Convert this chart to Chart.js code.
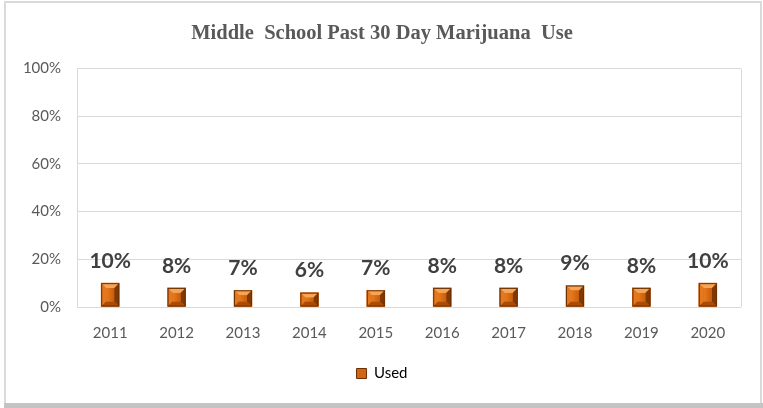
<!DOCTYPE html>
<html>
<head>
<meta charset="utf-8">
<script src="https://cdn.jsdelivr.net/npm/chart.js@4/dist/chart.umd.min.js"></script>
<style>
  html, body { margin: 0; padding: 0; background: #fff; }
  #wrap { width: 763px; height: 408px; }
</style>
</head>
<body>
<div id="wrap"><canvas id="chart" width="763" height="408"></canvas></div>
<script>
const years = ["2011", "2012", "2013", "2014", "2015", "2016", "2017", "2018", "2019", "2020"];
const used = [0.10, 0.08, 0.07, 0.06, 0.07, 0.08, 0.08, 0.09, 0.08, 0.10];
const yTicks = [0, 0.2, 0.4, 0.6, 0.8, 1.0];

const pct = v => Math.round(v * 100) + "%";

// white page with a light frame and a soft shadow along the bottom
const frame = {
  id: "frame",
  beforeDraw(chart) {
    const c = chart.ctx;
    c.save();
    c.fillStyle = "#fff";
    c.fillRect(0, 0, chart.width, chart.height);
    c.fillStyle = "#c4c4c4";
    c.fillRect(4, 403, 759, 5);
    c.fillStyle = "#dadada";
    c.fillRect(4, 1, 2, 402);
    c.fillRect(4, 1, 757, 2);
    c.fillRect(760, 1, 2, 402);
    c.restore();
  }
};

// right edge of the plot area
const plotEdge = {
  id: "plotEdge",
  beforeDatasetsDraw(chart) {
    const a = chart.chartArea, c = chart.ctx;
    c.save();
    c.strokeStyle = "#d9d9d9";
    c.lineWidth = 1;
    c.beginPath();
    c.moveTo(Math.round(a.right) + 0.5, a.top);
    c.lineTo(Math.round(a.right) + 0.5, a.bottom);
    c.stroke();
    c.restore();
  }
};

// pyramid bevel on each bar, then the value label above it
const bevel = {
  id: "bevel",
  afterDatasetsDraw(chart) {
    const c = chart.ctx;
    const meta = chart.getDatasetMeta(0);
    meta.data.forEach((bar, i) => {
      const w = bar.width;
      const l = bar.x - w / 2, r = bar.x + w / 2;
      const t = bar.y, b = bar.base;
      const h = b - t;
      const k = Math.min(5, h / 2, w / 2);
      const il = l + k, ir = r - k, it = t + k, ib = b - k;
      const quad = (pts, col) => {
        c.beginPath();
        c.moveTo(pts[0][0], pts[0][1]);
        for (let j = 1; j < pts.length; j++) c.lineTo(pts[j][0], pts[j][1]);
        c.closePath();
        c.fillStyle = col;
        c.fill();
      };
      c.save();
      quad([[l, t], [r, t], [ir, it], [il, it]], "#f6a455");
      quad([[l, t], [il, it], [il, ib], [l, b]], "#e4781f");
      quad([[r, t], [r, b], [ir, ib], [ir, it]], "#803805");
      quad([[l, b], [il, ib], [ir, ib], [r, b]], "#a84c07");
      if (ib > it) {
        const g = c.createLinearGradient(il, 0, ir, 0);
        g.addColorStop(0, "#e97a1c");
        g.addColorStop(1, "#c85e0b");
        c.fillStyle = g;
        c.fillRect(il, it, ir - il, ib - it);
      }
      c.strokeStyle = "#6b3004";
      c.lineWidth = 1;
      c.strokeRect(l + 0.5, t + 0.5, w - 1, h - 1);

      c.fillStyle = "#404040";
      c.font = "bold 21px Lato, 'Open Sans', sans-serif";
      c.textAlign = "center";
      c.textBaseline = "middle";
      c.fillText(pct(used[i]), bar.x, t - 22);
      c.restore();
    });
  }
};

new Chart(document.getElementById("chart"), {
  type: "bar",
  data: {
    labels: years,
    datasets: [{
      label: "Used",
      data: used,
      backgroundColor: "#d2650f",
      borderWidth: 0,
      barThickness: 18
    }]
  },
  options: {
    responsive: false,
    animation: false,
    layout: { padding: { left: 23, right: 22, top: 0, bottom: 17 } },
    plugins: {
      title: {
        display: true,
        text: "Middle  School Past 30 Day Marijuana  Use",
        color: "#595959",
        font: { family: "'Liberation Serif', 'Times New Roman', serif", size: 20.5, weight: "bold" },
        padding: { top: 21, bottom: 23 }
      },
      legend: {
        position: "bottom",
        labels: {
          color: "#595959",
          font: { family: "Lato, 'Open Sans', sans-serif", size: 15 },
          boxWidth: 10,
          boxHeight: 10,
          padding: 10,
          generateLabels: () => [{
            text: "Used",
            fillStyle: "#d2650f",
            strokeStyle: "#6b3004",
            lineWidth: 1,
            datasetIndex: 0
          }]
        }
      },
      tooltip: { enabled: false }
    },
    scales: {
      x: {
        grid: { display: false, drawTicks: false },
        border: { display: false },
        ticks: {
          color: "#595959",
          font: { family: "Lato, 'Open Sans', sans-serif", size: 15 },
          padding: 17
        },
        afterFit(scale) { scale.height = 49; }
      },
      y: {
        min: 0,
        max: 1,
        afterBuildTicks(scale) { scale.ticks = yTicks.map(v => ({ value: v })); },
        grid: { color: "#d9d9d9", drawTicks: false },
        border: { color: "#d9d9d9" },
        ticks: {
          color: "#595959",
          font: { family: "Lato, 'Open Sans', sans-serif", size: 15 },
          padding: 16,
          callback: v => pct(v)
        },
        afterFit(scale) { scale.width = 54; }
      }
    }
  },
  plugins: [frame, plotEdge, bevel]
});
</script>
</body>
</html>
